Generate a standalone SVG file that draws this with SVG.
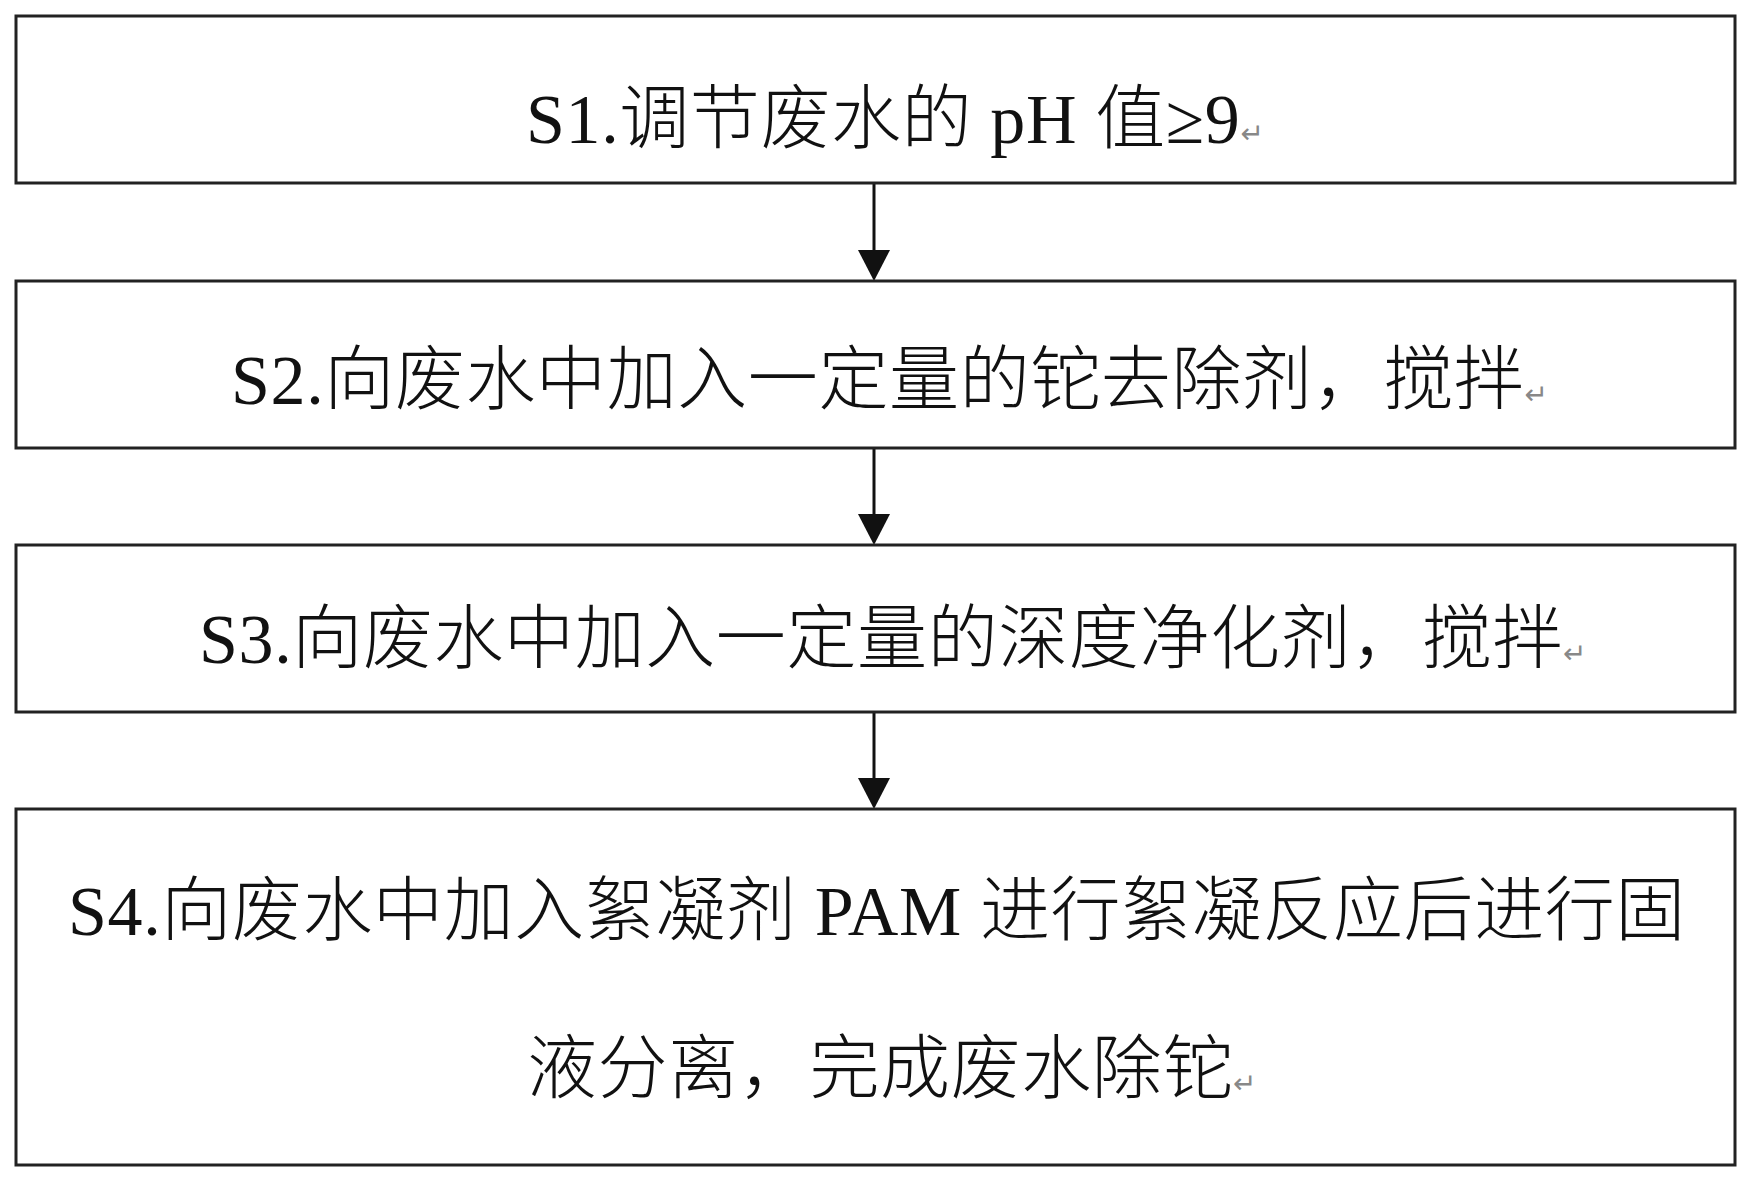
<svg xmlns="http://www.w3.org/2000/svg" width="1752" height="1179" viewBox="0 0 1752 1179">
<style>
.box{fill:#fff;stroke:#222;stroke-width:3}
.t{font-family:"Liberation Serif","Noto Sans CJK SC",serif;font-size:70px;fill:#111;letter-spacing:0.6px}
.cjk{font-family:"Noto Sans CJK SC",sans-serif;font-weight:300}
.pm{font-family:"DejaVu Sans",sans-serif;font-size:28px;fill:#888;letter-spacing:0}
.ln{stroke:#111;stroke-width:3;fill:none}
</style>
<rect width="1752" height="1179" fill="#fff"/>
<g id="connectors">
<line class="ln" x1="874" y1="183" x2="874" y2="252"/>
<path d="M858,250 L890,250 L874,281 Z" fill="#111"/>
<line class="ln" x1="874" y1="448" x2="874" y2="516"/>
<path d="M858,514 L890,514 L874,545 Z" fill="#111"/>
<line class="ln" x1="874" y1="712" x2="874" y2="780"/>
<path d="M858,778 L890,778 L874,809 Z" fill="#111"/>
</g>
<g id="s1">
<rect class="box" x="16" y="16" width="1719" height="167"/>
<text class="t" x="526" y="143">S1.<tspan class="cjk">调节废水的</tspan> pH <tspan class="cjk">值</tspan>≥9<tspan class="pm">↵</tspan></text>
</g>
<g id="s2">
<rect class="box" x="16" y="281" width="1719" height="167"/>
<text class="t" x="231" y="404">S2.<tspan class="cjk">向废水中加入一定量的铊去除剂，搅拌</tspan><tspan class="pm">↵</tspan></text>
</g>
<g id="s3">
<rect class="box" x="16" y="545" width="1719" height="167"/>
<text class="t" x="199" y="663">S3.<tspan class="cjk">向废水中加入一定量的深度净化剂，搅拌</tspan><tspan class="pm">↵</tspan></text>
</g>
<g id="s4">
<rect class="box" x="16" y="809" width="1719" height="356"/>
<text class="t" x="68" y="935">S4.<tspan class="cjk">向废水中加入絮凝剂</tspan> PAM <tspan class="cjk">进行絮凝反应后进行固</tspan></text>
<text class="t" x="527" y="1093"><tspan class="cjk">液分离，完成废水除铊</tspan><tspan class="pm">↵</tspan></text>
</g>
</svg>
